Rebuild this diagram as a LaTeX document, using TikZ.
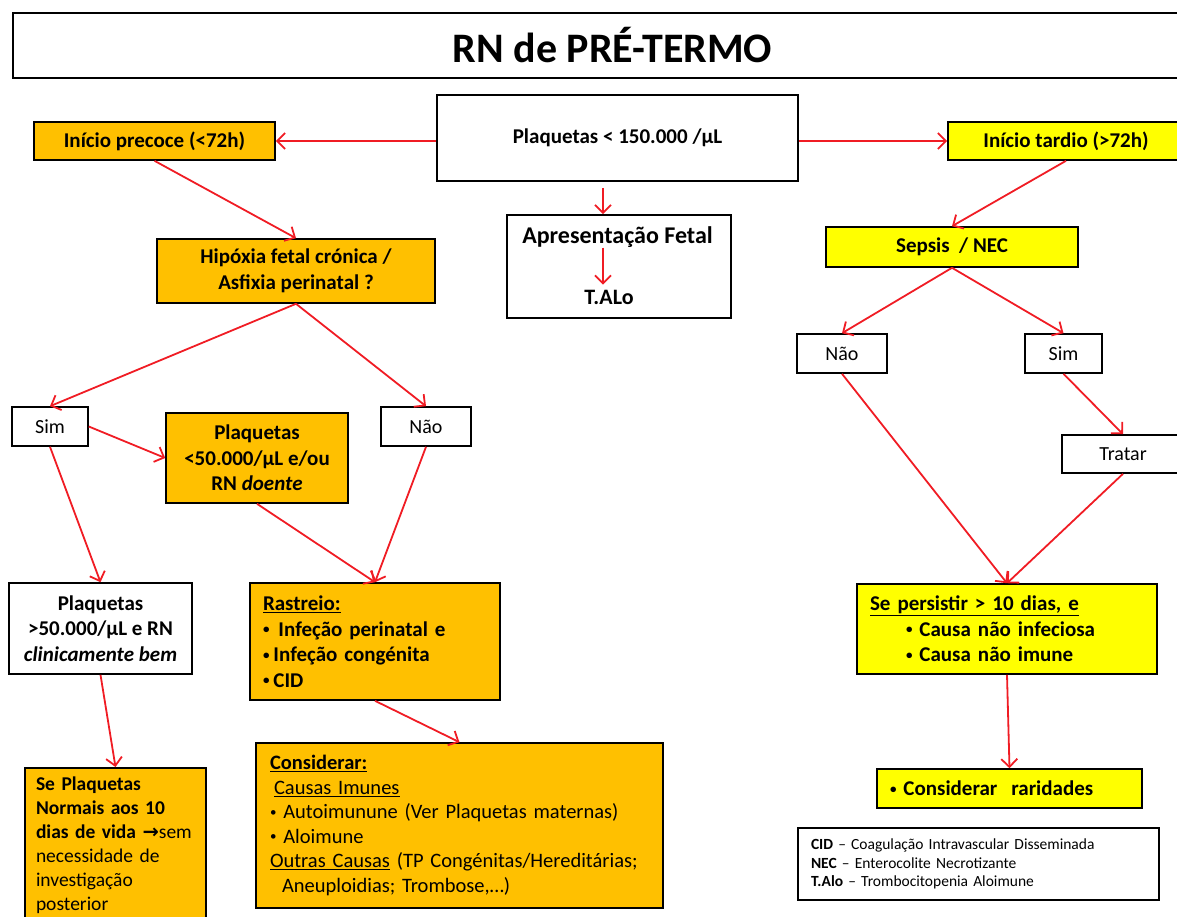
\documentclass[tikz,border=0pt]{standalone}
\usepackage{fontspec}
\setmainfont{Carlito}
\newfontfamily\symfont{DejaVu Sans}
\usepackage{tikz}
\usetikzlibrary{arrows.meta, positioning, calc}
\usepackage{xcolor}
\definecolor{boxorange}{HTML}{FFC000}
\definecolor{boxyellow}{HTML}{FFFF00}
\definecolor{arrowred}{HTML}{F01C24}
\newcommand{\fsz}[2]{\fontsize{#1}{#2}\selectfont}
\newcommand{\sdot}{\raisebox{2.5pt}{\fsz{13}{13}•}}

\begin{document}
\begin{tikzpicture}[x=1pt, y=-1pt,
        box/.style={draw=black, fill=white, line width=1.6pt, inner sep=0pt, align=center, font=\fsz{21}{25.5}\bfseries},
        obox/.style={box, fill=boxorange},
        ybox/.style={box, fill=boxyellow},
        ans/.style={box, font=\fsz{20}{24}},
        arr/.style={-{Straight Barb[length=8pt, width=16pt]}, draw=arrowred, line width=1.8pt}
    ]
        \useasboundingbox (0,0) rectangle (1177,916);
        \clip (0,0) rectangle (1177,916);

        % TITLE
        \node[box, minimum width=1199pt, minimum height=65pt, font=\fsz{42}{50}\bfseries] (title) at (612.5,45.5) {RN de PRÉ-TERMO};

        % TOP
        \node[box, minimum width=361pt, minimum height=86pt] (plaq) at (617.5,138) {Plaquetas < 150.000 /µL};
        \node[obox, minimum width=241pt, minimum height=38pt] (precoce) at (154.5,141) {Início precoce (<72h)};
        \node[ybox, minimum width=236pt, minimum height=38pt] (tardio) at (1066,141) {Início tardio (>72h)};

        % FETAL
        \node[box, minimum width=224pt, minimum height=103pt] (fetal) at (619,266.5) {};
        \node[font=\fsz{24}{28}\bfseries, inner sep=0pt] (fetaltxt) at (617.5,237) {Apresentação Fetal};
        \node[font=\fsz{22}{26}\bfseries, inner sep=0pt] (talo) at (609,297) {T.ALo};
        \coordinate (fetalaxis) at (603,0);

        % EARLY ONSET
        \node[obox, minimum width=278pt, minimum height=64pt] (hipoxia) at (296,271) {Hipóxia fetal crónica /\\Asfixia perinatal ?};
        \node[ans, minimum width=76pt, minimum height=39pt] (simL) at (50,426.5) {Sim};
        \node[ans, minimum width=90pt, minimum height=39pt] (naoL) at (426,426.5) {Não};
        \node[obox, minimum width=182pt, minimum height=90pt] (plaq50) at (257,458) {Plaquetas\\<50.000/µL e/ou\\RN \textit{doente}};
        \node[box, minimum width=183pt, minimum height=91pt] (plaqbem) at (100.5,628.5) {Plaquetas\\>50.000/µL e RN\\\textit{clinicamente bem}};
        \node[obox, text width=224pt, inner xsep=13pt, minimum height=117pt, align=left] (rastreio) at (375,641.5) {%
            \underline{Rastreio:}\\
            \sdot\hspace*{9pt}Infeção perinatal e\\
            \sdot\hspace*{4pt}Infeção congénita\\
            \sdot\hspace*{4pt}CID};
        \node[obox, text width=379pt, inner xsep=14pt, minimum height=165pt, align=left, font=\fsz{20.5}{24.6}] (considerar) at (459.5,825.5) {%
            \textbf{\underline{Considerar:}}\\
            \hspace*{4pt}\underline{Causas Imunes}\\
            \sdot\ Autoimunune (Ver Plaquetas maternas)\\
            \sdot\ Aloimune\\
            \mbox{\underline{Outras Causas} (TP Congénitas/Hereditárias;}\\
            \hspace*{12pt}Aneuploidias; Trombose,…)};
        \node[obox, anchor=north, text width=159pt, inner xsep=11pt, inner ysep=9pt, align=left, font=\fsz{19.5}{24}] (seplaq) at (115.5,767) {%
            \textbf{Se Plaquetas}\\
            \textbf{Normais aos 10}\\
            \textbf{dias de vida {\symfont →}}sem\\
            necessidade de\\
            investigação\\
            posterior};

        % LATE ONSET
        \node[ybox, minimum width=252pt, minimum height=40pt] (sepsis) at (952,247) {Sepsis\ \ / NEC};
        \node[ans, minimum width=90pt, minimum height=39pt] (naoR) at (842,353.5) {Não};
        \node[ans, minimum width=77pt, minimum height=39pt] (simR) at (1063.5,353.5) {Sim};
        \node[ans, minimum width=122pt, minimum height=38pt] (tratar) at (1123,454) {Tratar};
        \node[ybox, text width=274pt, inner xsep=13pt, minimum height=90pt, align=left] (persist) at (1007,629) {%
            \underline{Se persistir > 10 dias, e}\\
            \hspace*{36pt}\sdot\ Causa não infeciosa\\
            \hspace*{36pt}\sdot\ Causa não imune};
        \node[ybox, text width=239pt, inner xsep=13pt, minimum height=39pt, align=left] (rarid) at (1009.5,788.5) {\sdot\ Considerar\ \ raridades};

        % LEGEND
        \node[box, text width=335pt, inner xsep=13pt, minimum height=72pt, align=left, line width=1.4pt, font=\fsz{15.5}{18.5}] (legend) at (978.5,864) {%
            \textbf{CID} – Coagulação Intravascular Disseminada\\
            \textbf{NEC} – Enterocolite Necrotizante\\
            \textbf{T.Alo} – Trombocitopenia Aloimune};

        % CONNECTORS
        \draw[arr] (plaq.west |- precoce) -- (precoce.east);
        \draw[arr] (plaq.east |- tardio) -- (tardio.west);
        \draw[arr, shorten <=6pt] (plaq.south -| fetalaxis) -- (fetal.north -| fetalaxis);
        \draw[arr, shorten >=5pt] (fetaltxt.south -| fetalaxis) -- (talo.north -| fetalaxis);

        \draw[arr] (precoce.south) -- (hipoxia.north);
        \draw[arr] (hipoxia.south) -- (simL.north);
        \draw[arr] (hipoxia.south) -- (naoL.north);
        \draw[arr] (simL.east) -- (plaq50.west);
        \draw[arr] (simL.south) -- (plaqbem.north);
        \draw[arr] (plaq50.south) -- (rastreio.north);
        \draw[arr] (naoL.south) -- (rastreio.north);
        \draw[arr] (rastreio.south) -- (considerar.north);
        \draw[arr] (plaqbem.south) -- (seplaq.north);

        \draw[arr] (tardio.south) -- (sepsis.north);
        \draw[arr] (sepsis.south) -- (naoR.north);
        \draw[arr] (sepsis.south) -- (simR.north);
        \draw[arr] (simR.south) -- (tratar.north);
        \draw[arr] (naoR.south) -- (persist.north);
        \draw[arr] (tratar.south) -- (persist.north);
        \draw[arr] (persist.south) -- (rarid.north);
    \end{tikzpicture}
\end{document}
